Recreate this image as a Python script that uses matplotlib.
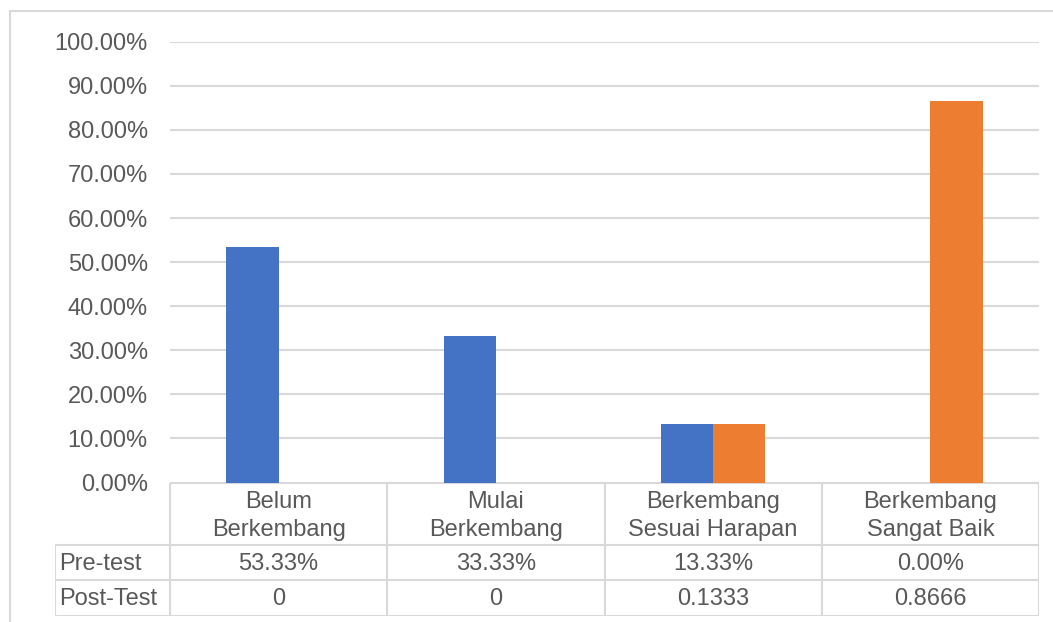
"""Pre-test vs post-test development levels, Excel-style column chart with data table."""

import matplotlib
matplotlib.use("Agg")
import matplotlib.pyplot as plt
from matplotlib.lines import Line2D
from matplotlib.ticker import FuncFormatter, MultipleLocator

categories = ["Belum\nBerkembang", "Mulai\nBerkembang", "Berkembang\nSesuai Harapan", "Berkembang\nSangat Baik"]
series_names = ["Pre-test", "Post-Test"]
pre_test = [0.5333, 0.3333, 0.1333, 0.0]
post_test = [0.0, 0.0, 0.1333, 0.8666]

W, H = 1053, 622
BLUE = "#4472C4"
ORANGE = "#ED7D31"
GRID = "#D9D9D9"
TEXT = "#595959"
FS = 17

plt.rcParams["font.family"] = ["Liberation Sans", "DejaVu Sans"]


def fx(px):
    return px / W


def fy(py):
    return 1 - py / H


fig = plt.figure(figsize=(W / 100, H / 100), dpi=100)

# plot area (pixels): x 170..1039, y 41.7 (100%) .. 482 (0%)
left, right, top, bottom = 170, 1039, 41.7, 482.5
ax = fig.add_axes([fx(left), fy(bottom), fx(right - left), (bottom - top) / H])
n = len(categories)
xs = list(range(n))
bw = 0.24
ax.bar([x - bw / 2 for x in xs], pre_test, width=bw, color=BLUE, zorder=3)
ax.bar([x + bw / 2 for x in xs], post_test, width=bw, color=ORANGE, zorder=3)
ax.set_xlim(-0.5, n - 0.5)
ax.set_ylim(0, 1.0)
ax.yaxis.set_major_locator(MultipleLocator(0.1))
ax.yaxis.set_major_formatter(FuncFormatter(lambda v, _: f"{v:.2%}"))
ax.tick_params(axis="y", length=0, pad=16, labelsize=FS, labelcolor=TEXT)
ax.set_xticks([])
ax.grid(axis="y", color=GRID, linewidth=1.5, zorder=0)
for s in ax.spines.values():
    s.set_visible(False)
ax.set_facecolor("none")

# data table below the plot area
t_left, t_top, t_bottom = 55, 483, 616
cat_w = (right - left) / n
label_w = (left - t_left) / cat_w
tax = fig.add_axes([fx(t_left), fy(t_bottom), fx(right - t_left), (t_bottom - t_top) / H])
tax.set_xlim(-0.5 - label_w, n - 0.5)
tax.set_ylim(t_bottom - t_top, 0)
tax.axis("off")

row_edges = [0, 62, 97, 133]
lw = 1.5
# horizontal lines
tax.hlines(row_edges[0], -0.5, n - 0.5, color=GRID, lw=lw)
tax.hlines(row_edges[1:], -0.5 - label_w, n - 0.5, color=GRID, lw=lw)
# vertical lines
tax.vlines(-0.5 - label_w, row_edges[1], row_edges[-1], color=GRID, lw=lw)
tax.vlines([i - 0.5 for i in range(n + 1)], row_edges[0], row_edges[-1], color=GRID, lw=lw)

for i, cat in enumerate(categories):
    tax.text(i, (row_edges[0] + row_edges[1]) / 2 + 2, cat, ha="center", va="center",
             fontsize=FS, color=TEXT, linespacing=1.3)

rows = [
    [f"{v:.2%}" for v in pre_test],
    [f"{v:g}" for v in post_test],
]
for r, (name, vals) in enumerate(zip(series_names, rows)):
    yc = (row_edges[r + 1] + row_edges[r + 2]) / 2 + 1
    tax.text(-0.5 - label_w + 0.02, yc, name, ha="left", va="center", fontsize=FS, color=TEXT)
    for i, v in enumerate(vals):
        tax.text(i, yc, v, ha="center", va="center", fontsize=FS, color=TEXT)

# chart area border (left and top visible)
fig.add_artist(Line2D([fx(10), fx(10)], [fy(11), fy(H + 5)], color=GRID, lw=1.5))
fig.add_artist(Line2D([fx(10), fx(W + 5)], [fy(11), fy(11)], color=GRID, lw=1.5))

fig.savefig("out.png", dpi=100)
